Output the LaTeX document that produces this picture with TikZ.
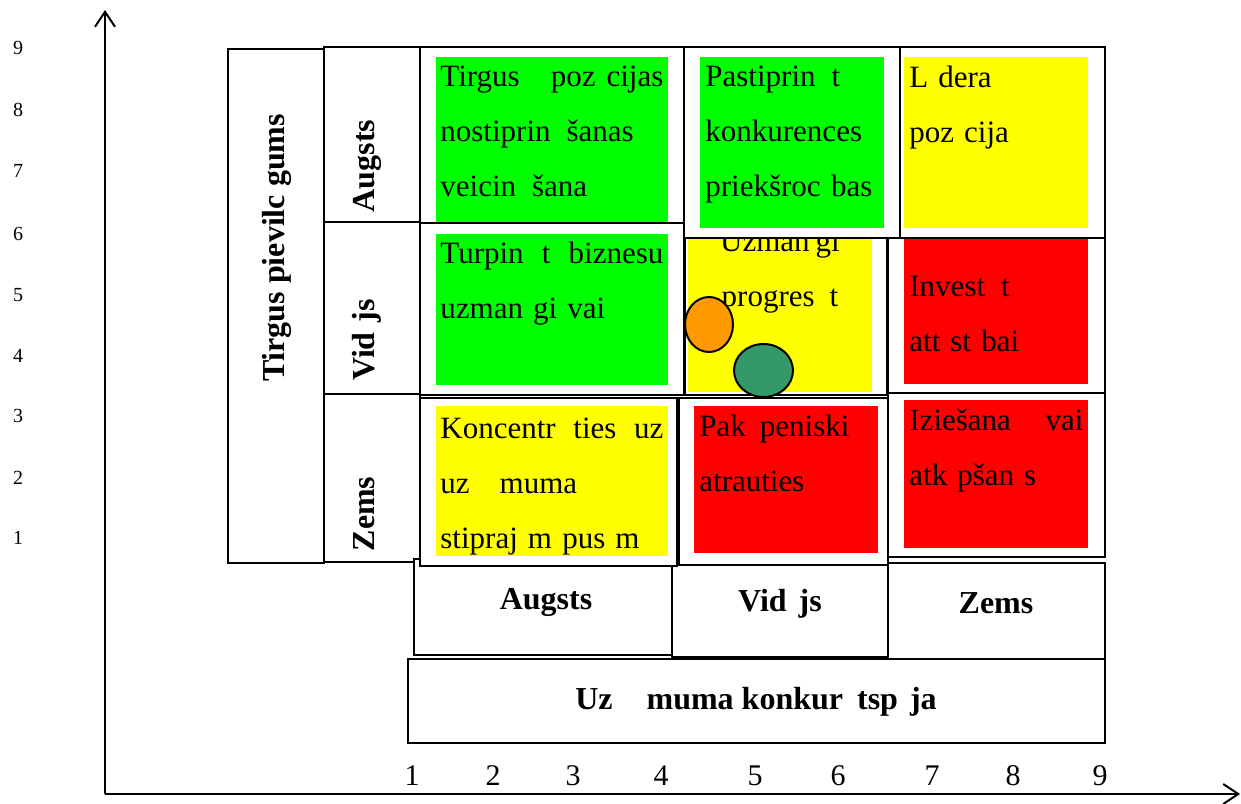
\documentclass[tikz,border=0pt]{standalone}
\usepackage{fontspec}
\setmainfont{Liberation Serif}
\usetikzlibrary{arrows.meta,shapes.geometric}
\definecolor{cgreen}{HTML}{00FF00}
\definecolor{cyellow}{HTML}{FFFF00}
\definecolor{cred}{HTML}{FF0000}
\definecolor{corange}{HTML}{FF9900}
\definecolor{cdkgreen}{HTML}{339966}
\begin{document}
\begin{tikzpicture}[x=0.5pt,y=-0.5pt,
  frame/.style={draw=black,line width=1pt,fill=white},
  axisline/.style={line width=1pt,-{Straight Barb[length=7.5pt,width=10pt]}},
  celltext/.style={anchor=north west,inner sep=0pt,align=left,font=\fontsize{15.5}{27.5}\selectfont},
  lab/.style={inner sep=0pt,anchor=base,font=\fontsize{16}{19}\selectfont\bfseries},
  ynum/.style={inner sep=0pt,font=\fontsize{10}{12}\selectfont},
  xnum/.style={inner sep=0pt,anchor=base,font=\fontsize{15}{18}\selectfont},
  dot/.style={ellipse,draw=black,line width=1pt,inner sep=0pt}
]
\useasboundingbox (0,0) rectangle (1241,803);

% axes
\coordinate (O) at (105,794);
\coordinate (ytip) at (105,10);
\coordinate (xtip) at (1240,794);
\draw[axisline] (O) -- (ytip);
\draw[axisline] (O) -- (xtip);

% axis numbers
\foreach \n/\yy in {9/48,8/110,7/171,6/234,5/295,4/356,3/416,2/478,1/538}
  \node[ynum] (yn\n) at (18,\yy) {\n};
\foreach \n/\xx in {1/412,2/493,3/573,4/661,5/755,6/838,7/932,8/1013,9/1100}
  \node[xnum] (xn\n) at (\xx,785) {\n};

% left headers
\draw[frame] (228,49) rectangle (324,563);
\draw[frame] (324,47) rectangle (420,222);
\draw[frame] (324,222) rectangle (420,394);
\draw[frame] (324,394) rectangle (420,562);
\node[lab,rotate=90] (ltirg) at (284,248) {Tirgus pievilc gums};
\node[lab,rotate=90] (lhigh) at (374,166) {Augsts};
\node[lab,rotate=90] (lmid) at (374,340) {Vid\hspace{5pt}js};
\node[lab,rotate=90] (llow) at (374,514) {Zems};

% bottom headers
\draw[frame] (414,559) rectangle (672,655);
\draw[frame] (672,563) rectangle (888,657);
\draw[frame] (888,563) rectangle (1105,659);
\draw[frame] (408,659) rectangle (1105,743);
\node[lab] (bhigh) at (546,609) {Augsts};
\node[lab] (bmid) at (780,611) {Vid\hspace{6pt}js};
\node[lab] (blow) at (996,613) {Zems};
\node[lab] (bcomp) at (756,709) {Uz\hspace{17pt}muma konkur\hspace{7pt}tsp\hspace{6pt}ja};

% row 2
\draw[frame] (420,223) rectangle (684,395);
\fill[cgreen] (436,234) rectangle (668,385);
\node[celltext,text width=111.5pt] (t21) at (440,242)
  {\makebox[\linewidth][l]{Turpin\hfill t\hfill biznesu}\\uzman\hspace{5pt}gi vai};
\draw[frame] (685,226) rectangle (887,395);
\fill[cyellow] (688,230) rectangle (872,392);
\node[celltext,anchor=north,align=center,text width=92pt] (t22) at (780,231)
  {Uzman\hspace{3pt}gi\\progres\hspace{7.5pt}t};
\draw[frame] (888,226) rectangle (1105,393);
\fill[cred] (904,230) rectangle (1088,384);
\node[celltext,text width=90pt] (t23) at (909,276)
  {Invest\hspace{8pt}t\\att\hspace{5pt}st bai};

% row 1
\draw[frame] (420,47) rectangle (684,223);
\fill[cgreen] (436,57) rectangle (668,222);
\node[celltext,text width=111.5pt] (t11) at (440,66)
  {\makebox[\linewidth][l]{Tirgus\hfill poz\hspace{5.5pt}cijas}\\nostiprin\hspace{8pt}šanas\\veicin\hspace{8pt}šana};
\draw[frame] (684,47) rectangle (900,238);
\fill[cgreen] (700,57) rectangle (884,228);
\node[celltext,text width=90pt] (t12) at (705,66)
  {Pastiprin\hspace{8pt}t\\konkurences\\priekšroc bas};
\draw[frame] (900,47) rectangle (1105,238);
\fill[cyellow] (904,57) rectangle (1088,228);
\node[celltext,text width=90pt] (t13) at (909,66)
  {L\hspace{5pt}dera\\poz\hspace{5pt}cija};

% row 3
\draw[frame] (420,398) rectangle (677,566);
\fill[cyellow] (436,406) rectangle (668,556);
\node[celltext,text width=111.5pt] (t31) at (440,418)
  {\makebox[\linewidth][l]{Koncentr\hfill ties\hfill uz}\\uz\hspace{15pt}muma\\stipraj\hspace{5pt}m pus\hspace{5pt}m};
\draw[frame] (679,398) rectangle (888,565);
\fill[cred] (694,406) rectangle (878,553);
\node[celltext,text width=90pt] (t32) at (699,415)
  {Pak\hspace{7pt}peniski\\atrauties};
\draw[frame] (888,393) rectangle (1105,557);
\fill[cred] (904,400) rectangle (1088,548);
\node[celltext,text width=87pt] (t33) at (909,409)
  {\makebox[\linewidth][l]{Iziešana\hfill vai}\\atk\hspace{5pt}pšan\hspace{5pt}s};

% markers
\node[dot,fill=corange,minimum width=24pt,minimum height=27.5pt] (orng) at (709,324.5) {};
\node[dot,fill=cdkgreen,minimum width=29.5pt,minimum height=26.5pt] (grn) at (763.5,370.5) {};
\end{tikzpicture}
\end{document}
